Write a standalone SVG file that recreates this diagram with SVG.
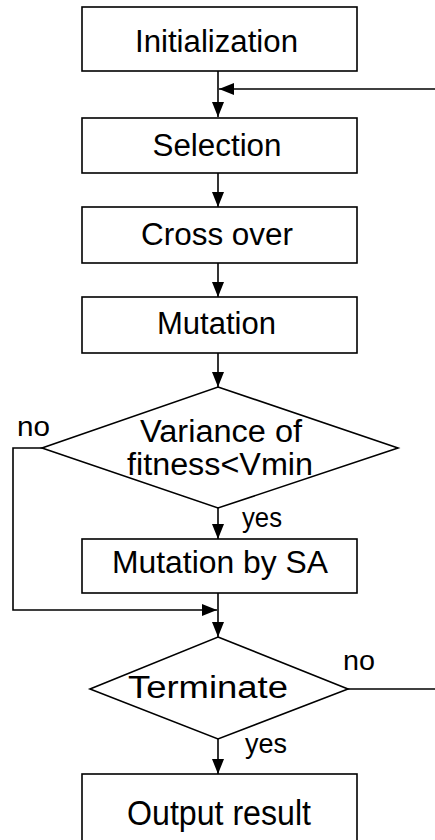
<svg xmlns="http://www.w3.org/2000/svg" width="435" height="840" viewBox="0 0 435 840">
<defs>
<style>
.box{fill:#fff;stroke:#000;stroke-width:1.6}
.t{font-family:"Liberation Sans",Arial,sans-serif;font-size:31px;fill:#000;text-anchor:middle}
.lbl{font-family:"Liberation Sans",Arial,sans-serif;font-size:28px;fill:#000}
.ln{fill:none;stroke:#000;stroke-width:1.6}
</style>
<marker id="ah" viewBox="0 0 15 12" refX="15" refY="6" markerWidth="15" markerHeight="12" markerUnits="userSpaceOnUse" orient="auto">
<path d="M0,0 L15,6 L0,12 Z" fill="#000"/>
</marker>
</defs>
<rect width="435" height="840" fill="#fff"/>
<g id="connectors">
<line class="ln" x1="218" y1="71" x2="218" y2="117" marker-end="url(#ah)"/>
<line class="ln" x1="435" y1="89" x2="219" y2="89" marker-end="url(#ah)"/>
<line class="ln" x1="218" y1="173" x2="218" y2="207" marker-end="url(#ah)"/>
<line class="ln" x1="218" y1="263" x2="218" y2="297" marker-end="url(#ah)"/>
<line class="ln" x1="218" y1="353" x2="218" y2="387" marker-end="url(#ah)"/>
<line class="ln" x1="218" y1="508" x2="218" y2="539" marker-end="url(#ah)"/>
<polyline class="ln" points="42,448 13,448 13,610 217,610" marker-end="url(#ah)"/>
<line class="ln" x1="218" y1="593" x2="218" y2="637" marker-end="url(#ah)"/>
<line class="ln" x1="348" y1="689" x2="435" y2="689"/>
<line class="ln" x1="218" y1="739" x2="218" y2="774" marker-end="url(#ah)"/>
<text class="lbl" x="17" y="436" textLength="33" lengthAdjust="spacingAndGlyphs">no</text>
<text class="lbl" x="242" y="527" textLength="40" lengthAdjust="spacingAndGlyphs">yes</text>
<text class="lbl" x="343" y="670" textLength="32" lengthAdjust="spacingAndGlyphs">no</text>
<text class="lbl" x="245" y="753" textLength="42" lengthAdjust="spacingAndGlyphs">yes</text>
</g>
<g id="init">
<rect class="box" x="82" y="7" width="275" height="64"/>
<text class="t" x="216.5" y="52" textLength="163" lengthAdjust="spacingAndGlyphs">Initialization</text>
</g>
<g id="selection">
<rect class="box" x="82" y="118" width="275" height="55"/>
<text class="t" x="217" y="156" textLength="129" lengthAdjust="spacingAndGlyphs">Selection</text>
</g>
<g id="crossover">
<rect class="box" x="82" y="207" width="275" height="56"/>
<text class="t" x="217" y="245" textLength="152" lengthAdjust="spacingAndGlyphs">Cross over</text>
</g>
<g id="mutation">
<rect class="box" x="82" y="297" width="275" height="56"/>
<text class="t" x="216.5" y="334" textLength="119" lengthAdjust="spacingAndGlyphs">Mutation</text>
</g>
<g id="variance">
<polygon class="box" points="218,387 398,448 218,508 42,448"/>
<text class="t" x="221" y="442" textLength="162" lengthAdjust="spacingAndGlyphs">Variance of</text>
<text class="t" x="220" y="475" textLength="186" lengthAdjust="spacingAndGlyphs">fitness&lt;Vmin</text>
</g>
<g id="mutsa">
<rect class="box" x="82" y="539" width="275" height="54"/>
<text class="t" x="220" y="573" textLength="216" lengthAdjust="spacingAndGlyphs">Mutation by SA</text>
</g>
<g id="terminate">
<polygon class="box" points="218,637 348,689 218,739 90,689"/>
<text class="t" x="208" y="698" textLength="160" lengthAdjust="spacingAndGlyphs">Terminate</text>
</g>
<g id="output">
<rect class="box" x="82" y="774" width="275" height="70"/>
<text class="t" transform="translate(219,825) scale(1,1.15)" x="0" y="0" textLength="184" lengthAdjust="spacingAndGlyphs">Output result</text>
</g>
</svg>
